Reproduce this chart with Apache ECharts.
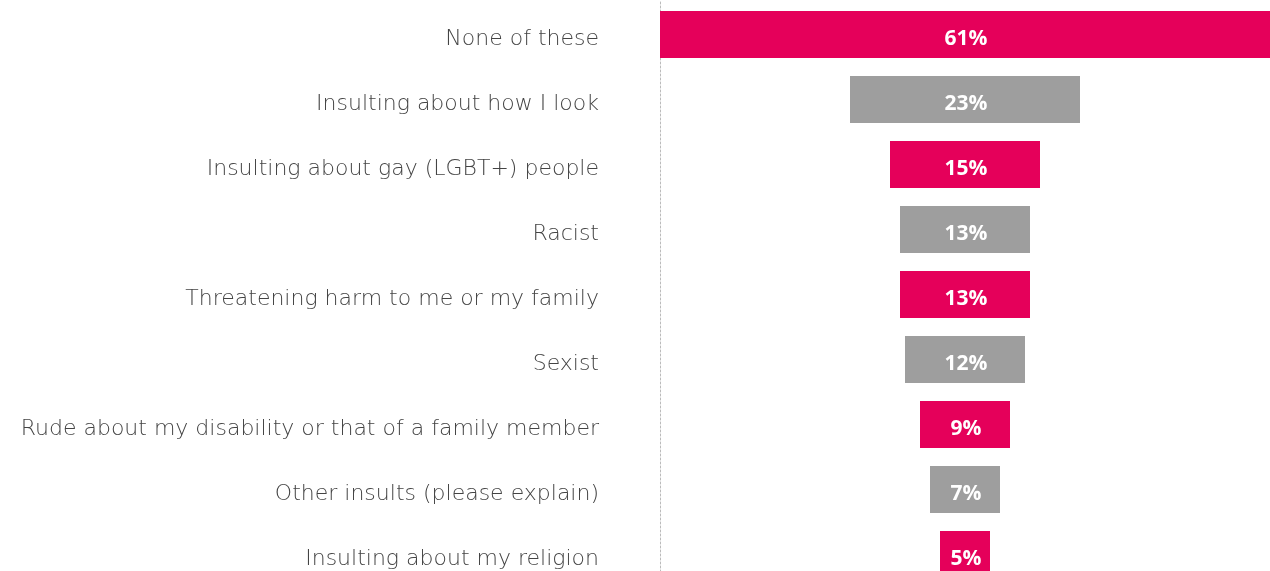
<!DOCTYPE html>
<html>
<head>
<meta charset="utf-8">
<script src="https://cdn.jsdelivr.net/npm/echarts@6/dist/echarts.min.js"></script>
<style>
  html, body { margin: 0; padding: 0; background: #fff; }
  #chart { width: 1270px; height: 571px; }
</style>
</head>
<body>
<div id="chart"></div>
<script>
// Categories and shares (%)
const categories = [
  'None of these',
  'Insulting about how I look',
  'Insulting about gay (LGBT+) people',
  'Racist',
  'Threatening harm to me or my family',
  'Sexist',
  'Rude about my disability or that of a family member',
  'Other insults (please explain)',
  'Insulting about my religion'
];
const values = [61, 23, 15, 13, 13, 12, 9, 7, 5];

const PINK = '#E5005A';
const GREY = '#9E9E9E';
const maxVal = Math.max(...values);

// invisible spacer so each bar is centred on the widest one
const spacer = values.map(v => (maxVal - v) / 2);

const chart = echarts.init(document.getElementById('chart'));
chart.setOption({
  animation: false,
  grid: {
    left: 660, right: 0, top: 2, height: 585,
    containLabel: false, outerBoundsMode: 'none'
  },
  xAxis: {
    type: 'value', min: 0, max: maxVal, show: false
  },
  yAxis: {
    type: 'category',
    inverse: true,
    data: categories,
    axisTick: { show: false },
    axisLine: { show: true, lineStyle: { color: '#bbbbbb', type: [2, 2], width: 1 } },
    axisLabel: {
      margin: 61,
      fontFamily: 'DejaVu Sans',
      fontWeight: 200,
      fontSize: 22,
      color: '#444444',
      verticalAlign: 'top',
      lineHeight: 10
    }
  },
  series: [
    {
      type: 'bar', stack: 'c', data: spacer,
      itemStyle: { color: 'transparent' },
      barWidth: 47, silent: true
    },
    {
      type: 'bar', stack: 'c',
      data: values.map((v, i) => ({
        value: v,
        itemStyle: { color: i % 2 === 0 ? PINK : GREY }
      })),
      barWidth: 47,
      label: {
        show: true, position: 'inside',
        offset: [1, 5],
        formatter: p => p.value + '%',
        color: '#ffffff', fontFamily: 'Open Sans', fontWeight: 'bold', fontSize: 21
      }
    }
  ]
});
</script>
</body>
</html>
